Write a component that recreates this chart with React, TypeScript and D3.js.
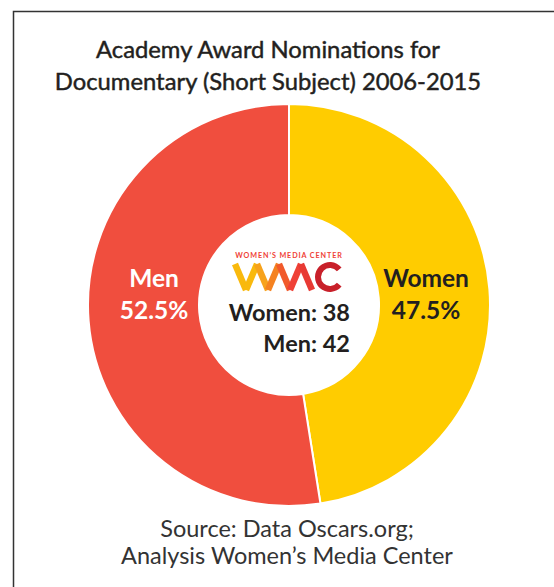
import React from 'react';
import * as d3 from 'd3';

const categories = ['Women', 'Men'];
const counts = [38, 42];
const percentLabels = ['47.5%', '52.5%'];
const colors = ['#ffcc00', '#f04e3e'];
const labelColors = ['#231f20', '#ffffff'];
const titleLines = ['Academy Award Nominations for', 'Documentary (Short Subject) 2006-2015'];
const sourceLines = ['Source: Data Oscars.org;', 'Analysis Women\u2019s Media Center'];

const width = 554;
const height = 587;
const cx = 289;
const cy = 305;
const outerR = 201;
const innerR = 90;

function Logo() {
  // Women's Media Center mark, drawn roughly
  const xs = [235, 246, 257, 268, 279, 290, 301, 312];
  const top = 264;
  const bottom = 290;
  const segColors = ['#f9b90d', '#f9b90d', '#f7a21b', '#f58220', '#f15a2b', '#ef4136', '#e83a34'];
  const segs = xs.slice(0, -1).map((x, i) => ({
    x1: x,
    y1: i % 2 === 0 ? top : bottom,
    x2: xs[i + 1],
    y2: i % 2 === 0 ? bottom : top,
    c: segColors[i],
  }));
  const cArc = d3.arc()({
    innerRadius: 9,
    outerRadius: 15,
    startAngle: Math.PI * 0.72,
    endAngle: Math.PI * 2.28,
  } as any) as string;
  return (
    <g>
      <text x={289} y={258} textAnchor="middle" fontFamily="Lato, sans-serif" fontWeight={700}
        fontSize={7.2} letterSpacing={0.9} fill="#ef4136">WOMEN&#8217;S MEDIA CENTER</text>
      {segs.map((s, i) => (
        <line key={i} x1={s.x1} y1={s.y1} x2={s.x2} y2={s.y2} stroke={s.c}
          strokeWidth={6.5} strokeLinecap="butt" />
      ))}
      <path d={cArc} transform="translate(330,277)" fill="#c8202a" />
    </g>
  );
}

export default function App() {
  const pie = d3.pie<number>().sort(null).value(d => d);
  const arcs = pie(counts);
  const arc = d3.arc<d3.PieArcDatum<number>>().innerRadius(innerR).outerRadius(outerR);
  const total = d3.sum(counts);
  const labelX = [426, 154];
  return (
    <svg width={width} height={height} style={{ position: 'absolute', left: 0, top: 0 }}>
      <rect x={0} y={0} width={width} height={height} fill="#ffffff" />
      <path d={`M13.5,${height} V11.5 H${width}`} fill="none" stroke="#333" strokeWidth={1.5} />
      {titleLines.map((t, i) => (
        <text key={i} x={268} y={58 + i * 32} textAnchor="middle" fontFamily="Lato, sans-serif"
          fontWeight={400} fontSize={23.8} fill="#231f20" stroke="#231f20" strokeWidth={0.45}>{t}</text>
      ))}
      <g transform={`translate(${cx},${cy})`}>
        {arcs.map((a, i) => (
          <path key={i} d={arc(a) as string} fill={colors[i]} stroke="#fff" strokeWidth={2} />
        ))}
      </g>
      {arcs.map((a, i) => (
        <g key={i} fontFamily="Lato, sans-serif" fontWeight={700} fontSize={24.5} fill={labelColors[i]}
          textAnchor="middle">
          <text x={labelX[i]} y={287}>{categories[i]}</text>
          <text x={labelX[i]} y={319}>{percentLabels[i] || d3.format('.1%')(a.value / total)}</text>
        </g>
      ))}
      <Logo />
      <g fontFamily="Lato, sans-serif" fontWeight={700} fontSize={23.5} fill="#231f20" textAnchor="end">
        {categories.map((c, i) => (
          <text key={i} x={350} y={321 + i * 31}>{`${c}: ${counts[i]}`}</text>
        ))}
      </g>
      {sourceLines.map((t, i) => (
        <text key={i} x={287} y={537 + i * 27} textAnchor="middle" fontFamily="Lato, sans-serif"
          fontWeight={400} fontSize={23.5} fill="#333">{t}</text>
      ))}
    </svg>
  );
}
